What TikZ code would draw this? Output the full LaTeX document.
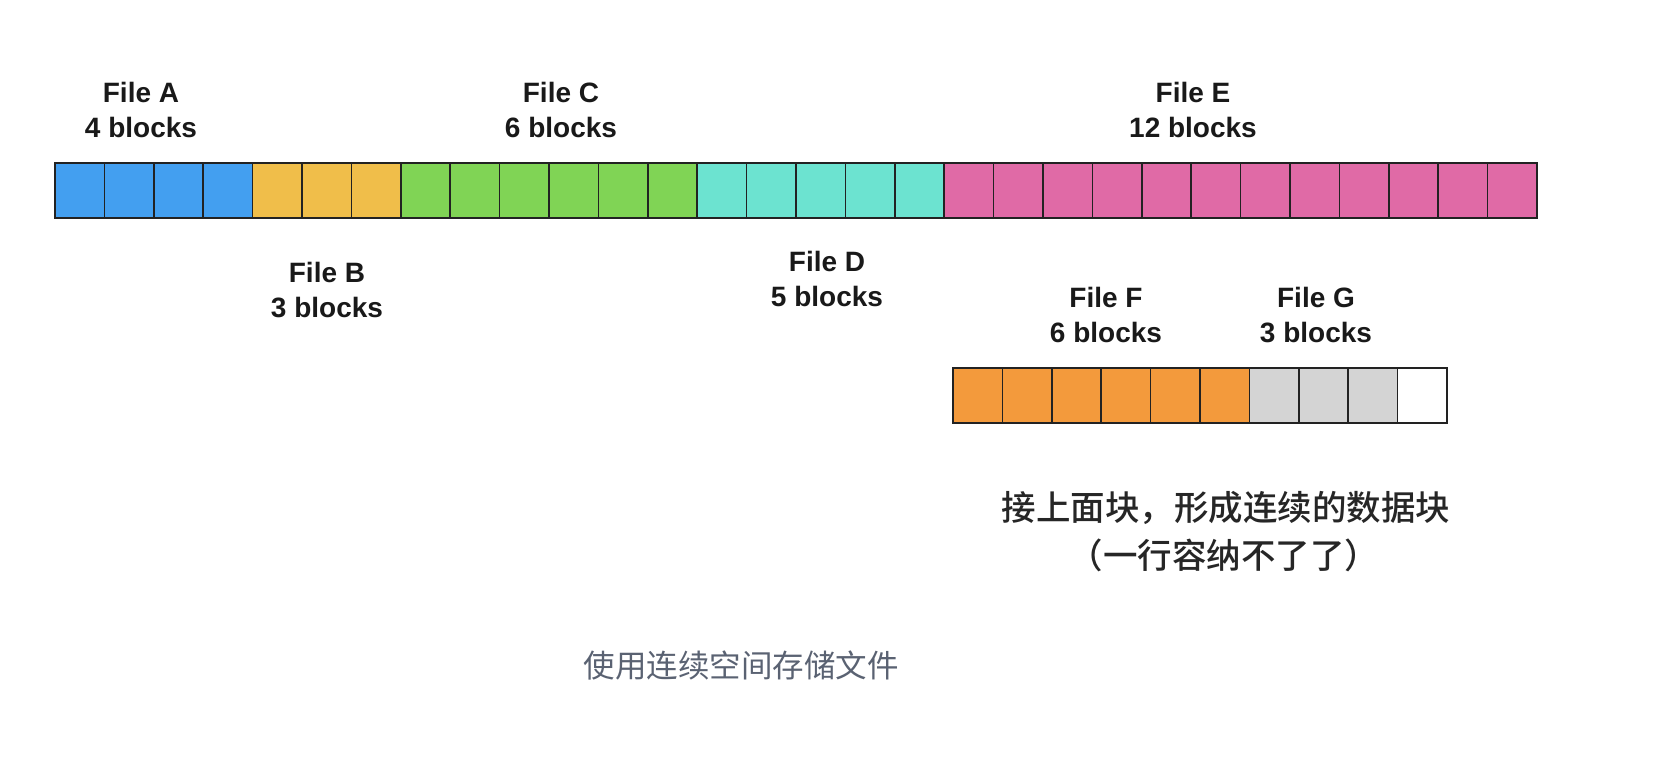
\documentclass[tikz,border=0pt]{standalone}
\usepackage{fontspec}
\setmainfont{Liberation Sans}
\newfontfamily\cjk{Noto Sans CJK SC}
\newfontfamily\cjkmed{Noto Sans CJK SC Medium}
\definecolor{cA}{HTML}{439FF0}
\definecolor{cB}{HTML}{F0BE4A}
\definecolor{cC}{HTML}{80D455}
\definecolor{cD}{HTML}{6CE3D0}
\definecolor{cE}{HTML}{E06AA6}
\definecolor{cF}{HTML}{F39A3C}
\definecolor{cG}{HTML}{D4D4D4}
\definecolor{capgray}{HTML}{5A6272}
\definecolor{edge}{HTML}{222222}
\begin{document}
\begin{tikzpicture}[x=1pt,y=-1pt,
  blk/.style={draw=edge,line width=1.6pt,minimum width=49.4pt,minimum height=55pt,inner sep=0pt,outer sep=0pt,anchor=north west},
  flabel/.style={font=\fontsize{28}{35}\selectfont\bfseries,align=center,text=black!90},
  cnlabel/.style={font=\cjkmed\fontsize{34.5}{40}\selectfont,text=black!85}]
\useasboundingbox (0,0) rectangle (1654,770);
% top row: 30 blocks
\foreach \i in {0,...,29}{
  \pgfmathsetmacro{\xx}{55+\i*49.4}
  \ifnum\i<4 \def\cc{cA}\else
  \ifnum\i<7 \def\cc{cB}\else
  \ifnum\i<13 \def\cc{cC}\else
  \ifnum\i<18 \def\cc{cD}\else \def\cc{cE}\fi\fi\fi\fi
  \node[blk,fill=\cc] (t\i) at (\xx,163) {};
}
% bottom row: 10 blocks
\foreach \i in {0,...,9}{
  \pgfmathsetmacro{\xx}{953+\i*49.4}
  \ifnum\i<6 \def\cc{cF}\else
  \ifnum\i<9 \def\cc{cG}\else \def\cc{white}\fi\fi
  \node[blk,fill=\cc] (b\i) at (\xx,368) {};
}
\node[flabel] (la) at (141,110) {File A\\4 blocks};
\node[flabel] (lc) at (561,110) {File C\\6 blocks};
\node[flabel] (le) at (1193,110) {File E\\12 blocks};
\node[flabel] (lb) at (327,290) {File B\\3 blocks};
\node[flabel] (ld) at (827,279) {File D\\5 blocks};
\node[flabel] (lf) at (1106,315) {File F\\6 blocks};
\node[flabel] (lg) at (1316,315) {File G\\3 blocks};
\node[cnlabel] (note1) at (1226,508) {接上面块，形成连续的数据块};
\node[cnlabel] (note2) at (1224,555) {（一行容纳不了了）};
\node[font=\cjk\fontsize{31.5}{36}\selectfont,text=capgray] (cap) at (741,665) {使用连续空间存储文件};
\end{tikzpicture}
\end{document}
